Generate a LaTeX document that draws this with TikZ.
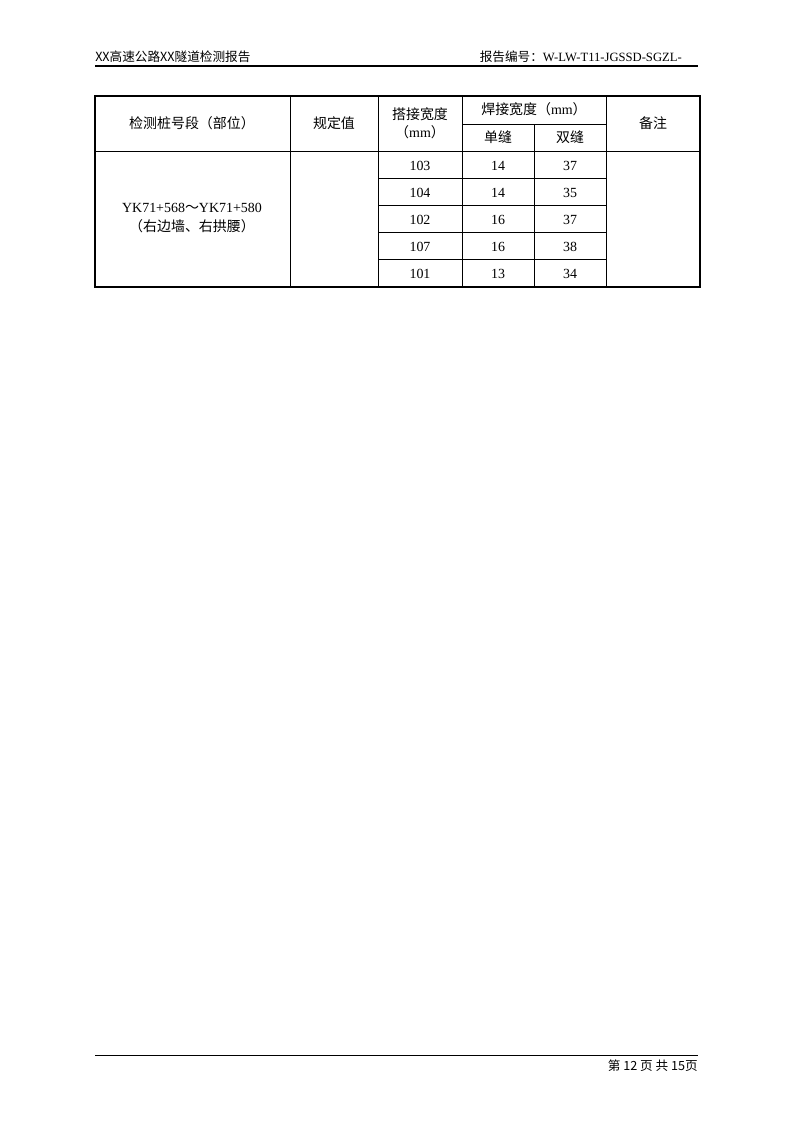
\documentclass[tikz,border=0pt]{standalone}
\usepackage{fontspec}
\setmainfont{Liberation Serif}
\newfontfamily\cjk{Noto Sans CJK SC}
\begin{document}
\begin{tikzpicture}[x=0.2646mm,y=-0.2646mm,
  hd/.style={font=\cjk\fontsize{10.5}{13}\selectfont,inner sep=0pt},
  val/.style={font=\fontsize{10.5}{13}\selectfont,inner sep=0pt},
  pg/.style={font=\cjk\fontsize{9.5}{12}\selectfont,inner sep=0pt}]
\useasboundingbox (0,0) rectangle (794,1123);
\node[pg,anchor=base west] (title) at (95,61) {XX高速公路XX隧道检测报告};
\node[pg,anchor=base east] (repno) at (682,61) {报告编号：{\rmfamily W-LW-T11-JGSSD-SGZL-}};
\draw[line width=0.8pt] (95,66) -- (698,66);
\draw[line width=0.6pt] (95,1055) -- (698,1055);
\node[pg,anchor=base east] (page) at (698,1070) {第 12 页 共 15页};
\draw[line width=0.45pt] (290,96) -- (290,287) (378,96) -- (378,287) (462,96) -- (462,287) (534,124) -- (534,287) (606,96) -- (606,287);
\draw[line width=0.45pt] (462,124) -- (606,124) (95,151) -- (700,151);
\draw[line width=0.45pt] (378,178) -- (606,178) (378,205) -- (606,205) (378,232) -- (606,232) (378,259) -- (606,259);
\draw[line width=1.2pt] (95,96) rectangle (700,287);
\node[hd] (site) at (192,123) {检测桩号段（部位）};
\node[hd] (spec) at (334,123) {规定值};
\node[hd] (lap) at (420,114) {搭接宽度};
\node[hd] (lapu) at (420,132) {（{\rmfamily mm}）};
\node[hd] (weld) at (534,109) {焊接宽度（{\rmfamily mm}）};
\node[hd] (single) at (498,137) {单缝};
\node[hd] (double) at (570,137) {双缝};
\node[hd] (note) at (653,123) {备注};
\node[val] (loc) at (192,208) {YK71+568{\cjk ～}YK71+580};
\node[hd] (part) at (192,226) {（右边墙、右拱腰）};
\node[val] (l1) at (420,166) {103};
\node[val] (l2) at (420,193) {104};
\node[val] (l3) at (420,220) {102};
\node[val] (l4) at (420,247) {107};
\node[val] (l5) at (420,274) {101};
\node[val] (s1) at (498,166) {14};
\node[val] (s2) at (498,193) {14};
\node[val] (s3) at (498,220) {16};
\node[val] (s4) at (498,247) {16};
\node[val] (s5) at (498,274) {13};
\node[val] (d1) at (570,166) {37};
\node[val] (d2) at (570,193) {35};
\node[val] (d3) at (570,220) {37};
\node[val] (d4) at (570,247) {38};
\node[val] (d5) at (570,274) {34};
\end{tikzpicture}
\end{document}
